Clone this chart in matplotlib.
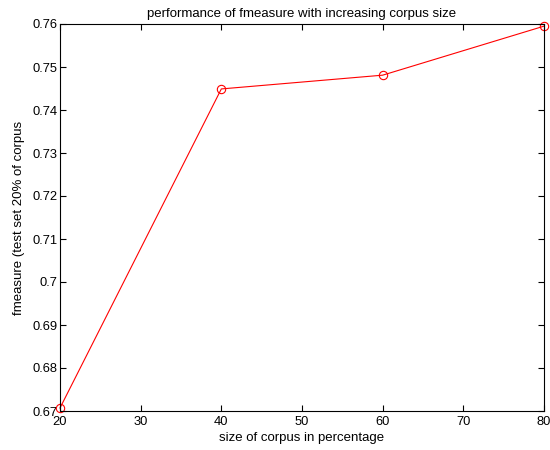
import matplotlib
matplotlib.use("Agg")
import matplotlib.pyplot as plt

plt.rcParams['font.family'] = ['Liberation Sans', 'DejaVu Sans']

corpus_pct = [20, 40, 60, 80]
fmeasure = [0.6707, 0.7449, 0.7481, 0.7595]

fig = plt.figure(figsize=(5.5, 4.5), dpi=100)
ax = fig.add_axes([60 / 550, 1 - 411 / 450, 484 / 550, 387 / 450])

ax.plot(corpus_pct, fmeasure, color='red', lw=0.8, marker='o', ms=6,
        mfc='none', mec='red', mew=0.8, clip_on=False)

ax.set_xlim(20, 80)
ax.set_ylim(0.67, 0.76)
ax.set_xticks(range(20, 81, 10))
ax.set_yticks([0.67 + 0.01 * i for i in range(10)])
ax.set_yticklabels(['0.67', '0.68', '0.69', '0.7', '0.71', '0.72',
                    '0.73', '0.74', '0.75', '0.76'])
ax.tick_params(direction='in', length=4, width=0.8, labelsize=9.3,
               top=True, right=True, pad=2)
ax.tick_params(axis='x', pad=3.5)
for s in ax.spines.values():
    s.set_linewidth(0.8)

ax.set_title('performance of fmeasure with increasing corpus size',
             fontsize=9.5, pad=5)
ax.set_xlabel('size of corpus in percentage', fontsize=9.5, labelpad=3)
ax.set_ylabel('fmeasure (test set 20% of corpus', fontsize=9.5, labelpad=5)

fig.savefig('out.png', dpi=100)
